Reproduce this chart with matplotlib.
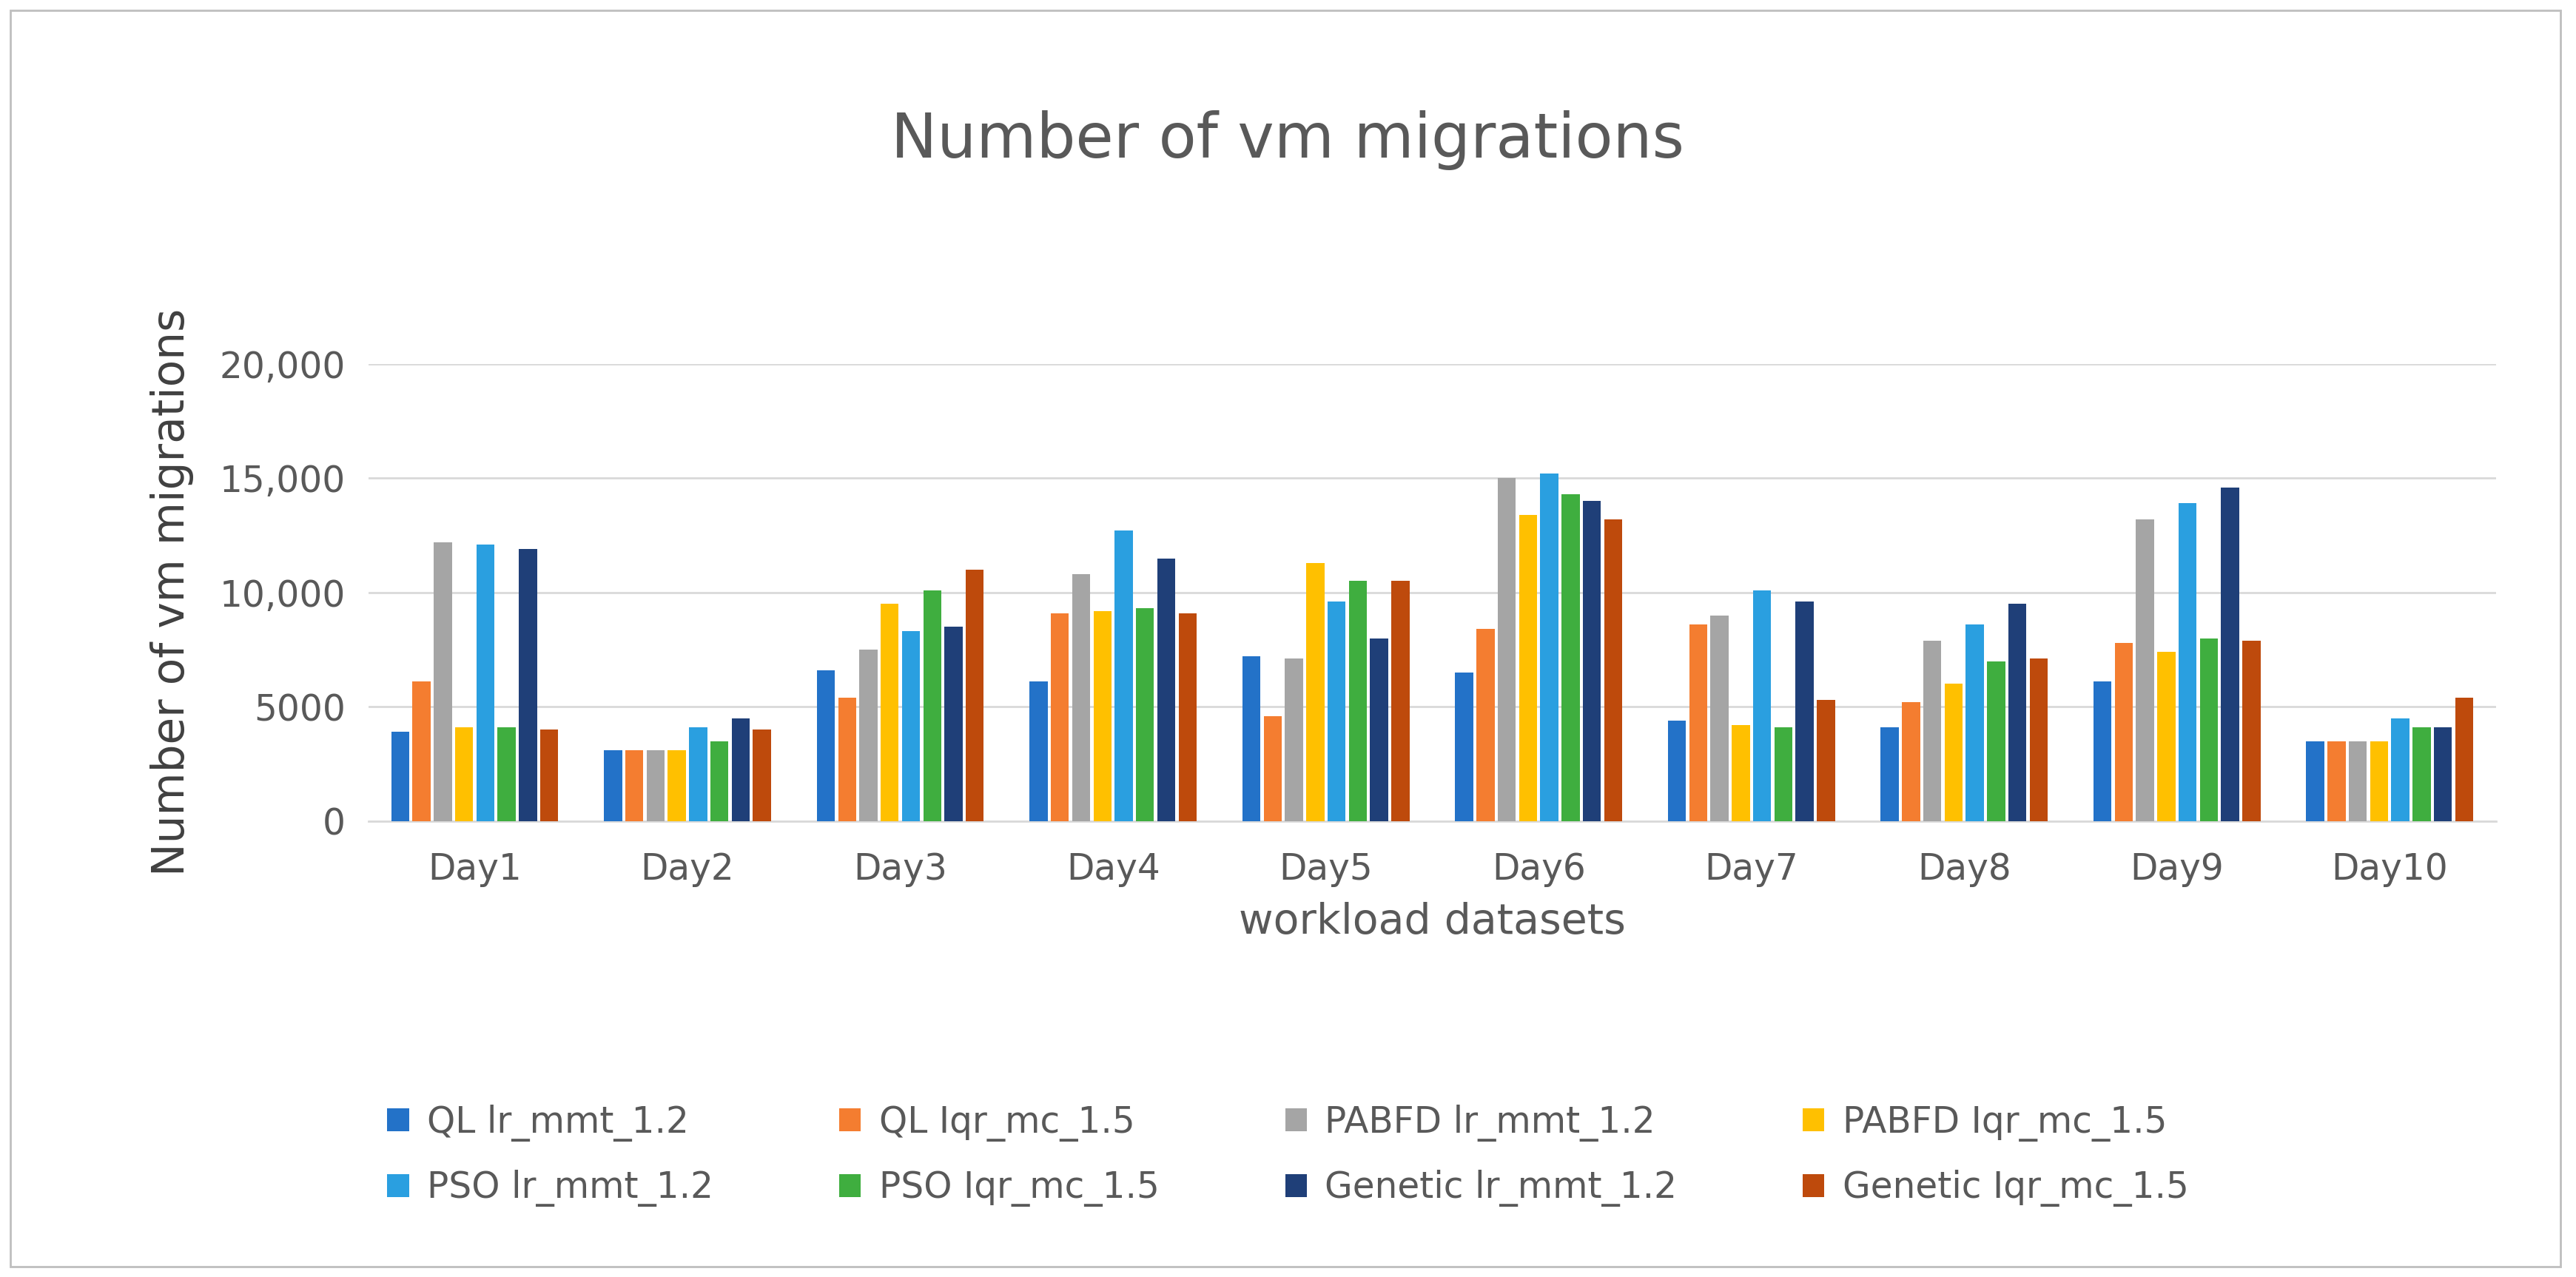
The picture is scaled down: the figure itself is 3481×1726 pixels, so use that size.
import matplotlib.pyplot as plt
import numpy as np
from matplotlib.patches import Rectangle

days = ["Day1", "Day2", "Day3", "Day4", "Day5", "Day6", "Day7", "Day8", "Day9", "Day10"]

ql_lr = [3900, 3100, 6600, 6100, 7200, 6500, 4400, 4100, 6100, 3500]
ql_iqr = [6100, 3100, 5400, 9100, 4600, 8400, 8600, 5200, 7800, 3500]
pabfd_lr = [12200, 3100, 7500, 10800, 7100, 15000, 9000, 7900, 13200, 3500]
pabfd_iqr = [4100, 3100, 9500, 9200, 11300, 13400, 4200, 6000, 7400, 3500]
pso_lr = [12100, 4100, 8300, 12700, 9600, 15200, 10100, 8600, 13900, 4500]
pso_iqr = [4100, 3500, 10100, 9300, 10500, 14300, 4100, 7000, 8000, 4100]
gen_lr = [11900, 4500, 8500, 11500, 8000, 14000, 9600, 9500, 14600, 4100]
gen_iqr = [4000, 4000, 11000, 9100, 10500, 13200, 5300, 7100, 7900, 5400]

series = [
    ("QL lr_mmt_1.2", ql_lr, "#2372C8"),
    ("QL Iqr_mc_1.5", ql_iqr, "#F47D30"),
    ("PABFD lr_mmt_1.2", pabfd_lr, "#A5A5A5"),
    ("PABFD Iqr_mc_1.5", pabfd_iqr, "#FFC000"),
    ("PSO lr_mmt_1.2", pso_lr, "#2A9FE0"),
    ("PSO Iqr_mc_1.5", pso_iqr, "#3FAE3F"),
    ("Genetic lr_mmt_1.2", gen_lr, "#1F3F78"),
    ("Genetic Iqr_mc_1.5", gen_iqr, "#BE4A0C"),
]

yticks = [0, 5000, 10000, 15000, 20000]
ytick_labels = ["0", "5000", "10,000", "15,000", "20,000"]

fig = plt.figure(figsize=(34.81, 17.26), dpi=100)
fig.patches.append(Rectangle((0.004, 0.008), 0.99, 0.984, transform=fig.transFigure,
                             fill=False, edgecolor="#BFBFBF", linewidth=2))
ax = fig.add_axes([0.143, 0.357, 0.826, 0.358])

x = np.arange(len(days))
n = len(series)
w = 0.1
for i, (label, vals, color) in enumerate(series):
    ax.bar(x + (i - (n - 1) / 2) * w, vals, width=w * 0.85, color=color, label=label, zorder=3)

ax.set_xlim(-0.5, len(days) - 0.5)
ax.set_ylim(0, 20000)
ax.set_yticks(yticks)
ax.set_yticklabels(ytick_labels)
ax.set_xticks(x)
ax.set_xticklabels(days)
ax.tick_params(axis="both", labelsize=35, colors="#595959", length=0)
ax.tick_params(axis="x", pad=30)
ax.tick_params(axis="y", pad=22)
ax.grid(axis="y", color="#D9D9D9", linewidth=2, zorder=0)
for s in ["top", "right", "left"]:
    ax.spines[s].set_visible(False)
ax.spines["bottom"].set_color("#D9D9D9")
ax.spines["bottom"].set_linewidth(2)

ax.set_xlabel("workload datasets", fontsize=41, color="#595959", labelpad=14)
ax.set_ylabel("Number of vm migrations", fontsize=43, color="#404040", labelpad=25)
fig.text(0.5, 0.89, "Number of vm migrations", ha="center", va="center",
         fontsize=60, color="#595959")

handles, labels = ax.get_legend_handles_labels()
order = [0, 4, 1, 5, 2, 6, 3, 7]
fig.legend([handles[i] for i in order], [labels[i] for i in order],
           loc="center", bbox_to_anchor=(0.5, 0.095), ncol=4, frameon=False,
           fontsize=35, labelcolor="#595959", handlelength=0.6, handleheight=0.6,
           columnspacing=3.5, handletextpad=0.5, labelspacing=0.8)

fig.savefig("out.png", dpi=100)
